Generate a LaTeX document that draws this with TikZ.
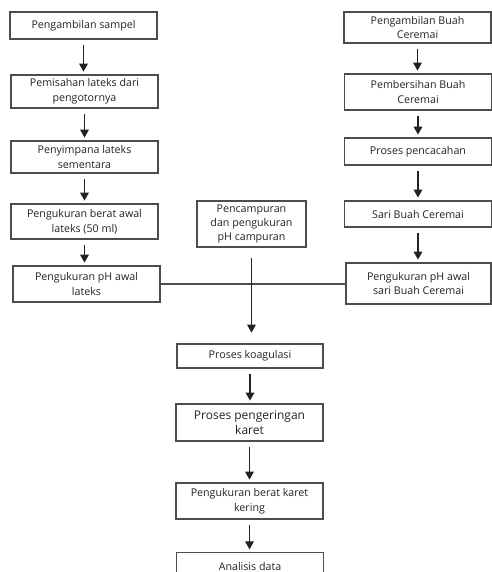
\documentclass[tikz,border=0pt]{standalone}
\usepackage{fontspec}
\setsansfont{Open Sans}
\usepackage{tikz}
\usetikzlibrary{arrows.meta, positioning, calc}
\definecolor{garis}{HTML}{4D4D4D}
\definecolor{tinta}{HTML}{222222}
\tikzset{
  every picture/.style={font=\sffamily, >=Stealth},
  kotak/.style={draw=garis, text=tinta, line width=1.1pt, inner sep=1pt, minimum width=110pt,
              font=\sffamily\fontsize{8}{11}\selectfont, align=center},
  panah/.style={-{Triangle[width=6.5pt,length=6pt]}, line width=0.9pt, tinta, shorten <=4pt, shorten >=2pt},
  garislurus/.style={line width=0.8pt, garis},
}
\begin{document}
\begin{tikzpicture}[x=0.75pt, y=-0.75pt]
  \clip (0,0) rectangle (492,572);
  % kolom lateks
  \node[kotak, minimum height=20.25pt] (L1) at (83.5,25.5) {Pengambilan sampel};
  \node[kotak, minimum height=24.75pt] (L2) at (84.5,91.5) {Pemisahan lateks dari\\pengotornya};
  \node[kotak, minimum height=24pt] (L3) at (84.5,157) {Penyimpana lateks\\sementara};
  \node[kotak, minimum height=26.25pt] (L4) at (84.5,221.5) {Pengukuran berat awal\\lateks (50 ml)};
  \node[kotak, minimum height=27pt] (L5) at (86.5,284) {Pengukuran pH awal\\lateks};
  % kolom buah ceremai
  \node[kotak, minimum height=23.25pt] (R1) at (417.5,27.5) {Pengambilan Buah\\Ceremai};
  \node[kotak, minimum height=27pt] (R2) at (418,92) {Pembersihan Buah\\Ceremai};
  \node[kotak, minimum height=20.25pt] (R3) at (418,151.5) {Proses pencacahan};
  \node[kotak, minimum height=19.5pt] (R4) at (418,214) {Sari Buah Ceremai};
  \node[kotak, minimum height=30.75pt, minimum width=109pt] (R5) at (418.5,283.5) {Pengukuran pH awal\\sari Buah Ceremai};
  % tengah
  \node[kotak, minimum height=34.5pt, minimum width=81.75pt, font=\sffamily\fontsize{8}{10.6}\selectfont] (M) at (251.5,224) {Pencampuran\\dan pengukuran\\pH campuran};
  \node[kotak, minimum height=18pt, minimum width=109.5pt] (K1) at (250,356) {Proses koagulasi};
  \node[kotak, minimum height=27.75pt, minimum width=110pt, font=\sffamily\fontsize{9}{11}\selectfont] (K2) at (249.5,422.5) {Proses pengeringan\\karet};
  \node[kotak, minimum height=27pt] (K3) at (249.5,501) {Pengukuran berat karet\\kering};
  \node[kotak, minimum height=20pt, anchor=north] (K4) at (250,552) {Analisis data};
  \foreach \a/\b in {L1/L2, L2/L3, L3/L4, L4/L5, R1/R2, R2/R3, R3/R4, R4/R5, K1/K2, K2/K3, K3/K4}
    \draw[panah] (\a.south) -- (\a.south |- \b.north);
  \draw[garislurus] (L5.east) -- (L5.east -| R5.west);
  \draw[panah, shorten <=8pt, shorten >=8pt] (M.south) -- (M.south |- K1.north);
\end{tikzpicture}
\end{document}
